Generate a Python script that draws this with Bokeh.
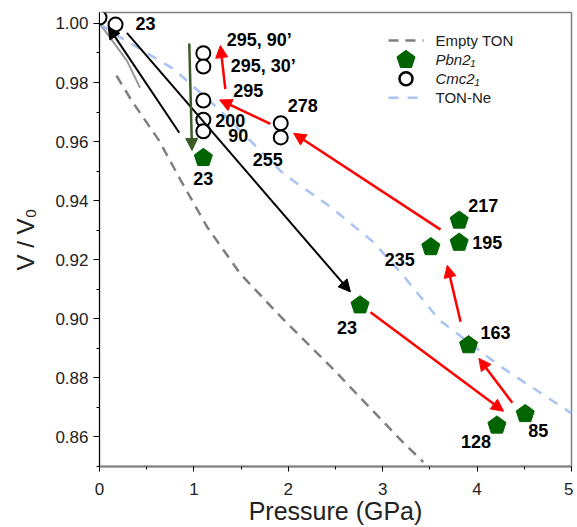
import math
from bokeh.plotting import figure
from bokeh.models import (Range1d, Arrow, NormalHead, ColumnDataSource, FixedTicker,
                          PrintfTickFormatter)
from bokeh.embed import file_html
from bokeh.resources import INLINE
from bokeh.core.properties import value

# ---------------- data ----------------
empty_p = [0.18, 0.34, 0.63, 0.86, 1.14, 1.49, 1.92, 2.45, 3.19, 3.43]
empty_v = [0.9823, 0.9739, 0.9604, 0.9469, 0.9311, 0.9153, 0.9007, 0.8838, 0.8590, 0.8515]

fit_p = [0.0, 0.11, 0.29, 0.43]
fit_v = [1.0, 0.9953, 0.9874, 0.9782]

ne_p = [0.0, 0.13, 0.785, 1.245, 1.95, 2.45, 2.9, 3.2, 3.6, 4.25, 5.0]
ne_v = [1.0, 0.997, 0.9846, 0.9715, 0.9491, 0.9378, 0.926, 0.9153, 0.8996, 0.8838, 0.868]

pbn_p = [1.10, 2.76, 3.91, 4.21, 4.51, 3.81, 3.81, 3.51]
pbn_v = [0.9545, 0.9046, 0.8911, 0.8639, 0.8678, 0.9333, 0.9258, 0.9243]
pbn_lbl = ["23", "23", "163", "128", "85", "217", "195", "235"]

cmc_p = [0.0, 0.17, 1.10, 1.10, 1.10, 1.10, 1.10, 1.92, 1.92]
cmc_v = [1.002, 0.9996, 0.9899, 0.9854, 0.9739, 0.9674, 0.9635, 0.9662, 0.9614]
cmc_lbl = ["", "23", "295, 90\u2019", "295, 30\u2019", "295", "200", "90", "278", "255"]

arr_x0 = [0.29, 0.845, 0.951, 2.871, 4.373, 3.825, 3.613, 1.81, 1.333]
arr_y0 = [0.9968, 0.963, 0.9932, 0.9022, 0.8716, 0.899, 0.9302, 0.966, 0.9778]
arr_x1 = [2.658, 0.092, 0.98, 4.28, 4.019, 3.684, 2.057, 1.273, 1.28]
arr_y1 = [0.9091, 0.9989, 0.957, 0.8687, 0.8866, 0.9181, 0.9628, 0.9741, 0.9925]
arr_kind = ["black", "black", "green", "red", "red", "red", "red", "red", "red"]

legend_names = ["Empty TON", "Pbn2\u2081", "Cmc2\u2081", "TON-Ne"]

x_ticks = [0, 1, 2, 3, 4, 5]
y_ticks = [0.86, 0.88, 0.90, 0.92, 0.94, 0.96, 0.98, 1.00]

# --------------- label offsets (screen px) ---------------
pbn_dx = [0, -13, 27, -21, 13, 24, 28, -31]
pbn_dy = [21, 22, -13, 16, 17, -15, 0, 12]
cmc_dx = [0, 30, 56, 60, 45, 27, 35, 22, -13]
cmc_dy = [0, -1, -13, -1, -10, 1, 4, -18, 22]

FONT = "Liberation Sans"
GREEN = "#006400"
GREY = "#7f7f7f"
BLUE = "#a9c4f2"
ARROW_COL = {"black": "#000000", "green": "#3b5a27", "red": "#ff0000"}
ARROW_W = {"black": 2, "green": 2.5, "red": 2.5}

X0, X1, Y0, Y1 = 0, 5, 0.85, 1.0037
FRAME_W, FRAME_H = 472, 454
p = figure(width=573, height=527, output_backend="svg", toolbar_location=None,
           x_range=Range1d(X0, X1), y_range=Range1d(Y0, Y1),
           min_border_left=99, min_border_right=2, min_border_top=12, min_border_bottom=61)
p.extra_x_ranges = {"px": Range1d(0, FRAME_W)}
p.extra_y_ranges = {"py": Range1d(0, FRAME_H)}
p.grid.visible = False
p.background_fill_color = "white"
p.border_fill_color = "white"
p.outline_line_color = GREY
p.outline_line_width = 1.5

# axes
xa = p.xaxis[0]
xa.ticker = FixedTicker(ticks=x_ticks, minor_ticks=[0.5, 1.5, 2.5, 3.5, 4.5])
xa.axis_label = "Pressure (GPa)"
xa.axis_label_text_font = FONT
xa.axis_label_text_font_size = "25px"
xa.axis_label_text_font_style = "normal"
xa.axis_label_text_color = "#222222"
xa.axis_label_standoff = -1
xa.major_label_text_font = FONT
xa.major_label_text_font_size = "17px"
xa.major_label_text_color = "#222222"
xa.major_label_standoff = 11
xa.axis_line_color = GREY
xa.axis_line_width = 2
xa.major_tick_in = 0
xa.major_tick_out = 5
xa.minor_tick_in = 0
xa.minor_tick_out = 3
xa.major_tick_line_color = "black"
xa.minor_tick_line_color = "black"

ya = p.yaxis[0]
ya.ticker = FixedTicker(ticks=y_ticks,
                        minor_ticks=[0.85, 0.87, 0.89, 0.91, 0.93, 0.95, 0.97, 0.99])
ya.formatter = PrintfTickFormatter(format="%.2f")
ya.axis_label = "V / V\u2080"
ya.axis_label_text_font = FONT
ya.axis_label_text_font_size = "24px"
ya.axis_label_text_font_style = "normal"
ya.axis_label_text_color = "#222222"
ya.axis_label_standoff = 13
ya.major_label_text_font = FONT
ya.major_label_text_font_size = "17px"
ya.major_label_text_color = "#222222"
ya.major_label_standoff = 5
ya.axis_line_color = "black"
ya.axis_line_width = 1
ya.major_tick_in = 0
ya.major_tick_out = 6
ya.minor_tick_in = 0
ya.minor_tick_out = 3
ya.major_tick_line_color = "black"
ya.minor_tick_line_color = "black"

# curves
p.line(fit_p, fit_v, line_color="#999999", line_width=2)
p.line(empty_p, empty_v, line_color=GREY, line_width=2.5, line_dash="10 7")
p.line(ne_p, ne_v, line_color=BLUE, line_width=2.5, line_dash="10 9")

# arrows
for kind in ["black", "green", "red"]:
    idx = [i for i, k in enumerate(arr_kind) if k == kind]
    src = ColumnDataSource(dict(x0=[arr_x0[i] for i in idx], y0=[arr_y0[i] for i in idx],
                                x1=[arr_x1[i] for i in idx], y1=[arr_y1[i] for i in idx]))
    col = ARROW_COL[kind]
    p.add_layout(Arrow(x_start="x0", y_start="y0", x_end="x1", y_end="y1", source=src,
                       line_color=col, line_width=ARROW_W[kind],
                       end=NormalHead(size=12, fill_color=col, line_color=col, line_width=1)))

# pentagon marker shape (screen px, point up)
R_PENT = 9.5
pent_dx = [R_PENT * math.cos(math.radians(90 + 72 * k)) for k in range(5)]
pent_dy = [R_PENT * math.sin(math.radians(90 + 72 * k)) for k in range(5)]
kx = FRAME_W / (X1 - X0)
ky = FRAME_H / (Y1 - Y0)

# markers
p.scatter(cmc_p, cmc_v, marker="circle", size=14, fill_color="white",
          line_color="black", line_width=2)
p.patches(xs=[[x + d / kx for d in pent_dx] for x in pbn_p],
          ys=[[y + d / ky for d in pent_dy] for y in pbn_v],
          fill_color=GREEN, line_color=GREEN, line_width=1)

# point labels
lsrc1 = ColumnDataSource(dict(x=pbn_p, y=pbn_v, t=pbn_lbl, dx=pbn_dx, dy=pbn_dy))
lsrc2 = ColumnDataSource(dict(x=cmc_p, y=cmc_v, t=cmc_lbl, dx=cmc_dx, dy=cmc_dy))
for s in (lsrc1, lsrc2):
    p.text(x="x", y="y", text="t", x_offset="dx", y_offset="dy", source=s,
           text_font=value(FONT), text_font_size="18px", text_font_style="bold",
           text_color="black", text_align="center", text_baseline="middle")

# legend, laid out in frame pixels (x from left, y from bottom)
LG_X0, LG_X1, LG_TX = 289, 324, 336
LG_ROWS = [426, 406.7, 387.7, 368.7]
LG_MX = (LG_X0 + LG_X1) / 2
kw = dict(x_range_name="px", y_range_name="py")
p.line([LG_X0, LG_X1], [LG_ROWS[0]] * 2, line_color=GREY, line_width=2.5,
       line_dash="10 7", **kw)
p.patches(xs=[[LG_MX + d for d in pent_dx]], ys=[[LG_ROWS[1] + d for d in pent_dy]],
          fill_color=GREEN, line_color=GREEN, **kw)
p.scatter([LG_MX], [LG_ROWS[2]], marker="circle", size=13, fill_color="white",
          line_color="black", line_width=2.5, **kw)
p.line([LG_X0, LG_X1], [LG_ROWS[3]] * 2, line_color=BLUE, line_width=2.5,
       line_dash="10 9", **kw)
styles = ["normal", "italic", "italic", "normal"]
for name, row, st in zip(legend_names, LG_ROWS, styles):
    p.text(x=[LG_TX], y=[row], text=[name], text_font=value(FONT), text_font_size="15px",
           text_font_style=st, text_color="#222222", text_align="left",
           text_baseline="middle", **kw)

open("out.html", "w").write(file_html(p, INLINE))
